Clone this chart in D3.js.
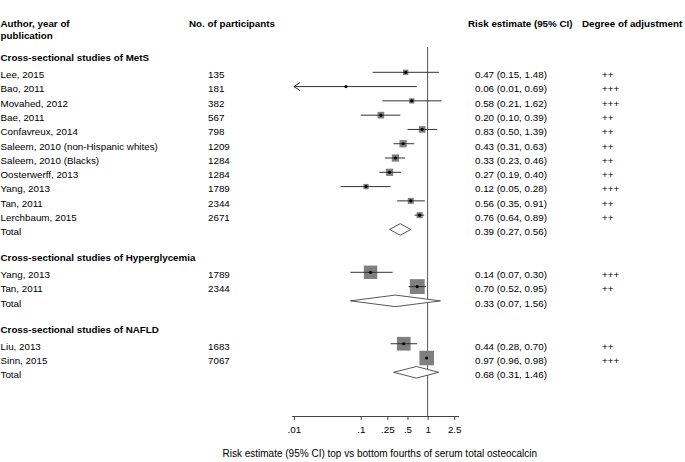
<!DOCTYPE html>
<html>
<head>
<meta charset="utf-8">
<script src="https://cdn.jsdelivr.net/npm/d3@7"></script>
<style>
  html, body { margin: 0; padding: 0; background: #fff; }
  svg { display: block; }
  text { font-family: "Liberation Sans", Arial, Helvetica, sans-serif; fill: #000; }
</style>
</head>
<body>
<svg id="chart" width="685" height="462"></svg>
<script>
// ---------------- DATA ----------------
const groupTitles = [
  "Cross-sectional studies of MetS",
  "Cross-sectional studies of Hyperglycemia",
  "Cross-sectional studies of NAFLD"
];
const studyGroup = [0,0,0,0,0,0,0,0,0,0,0, 1,1, 2,2];
const studyNames = [
  "Lee, 2015", "Bao, 2011", "Movahed, 2012", "Bae, 2011", "Confavreux, 2014",
  "Saleem, 2010 (non-Hispanic whites)", "Saleem, 2010 (Blacks)", "Oosterwerff, 2013",
  "Yang, 2013", "Tan, 2011", "Lerchbaum, 2015",
  "Yang, 2013", "Tan, 2011",
  "Liu, 2013", "Sinn, 2015"
];
const participants = [135, 181, 382, 567, 798, 1209, 1284, 1284, 1789, 2344, 2671, 1789, 2344, 1683, 7067];
const estimates = [0.47, 0.06, 0.58, 0.20, 0.83, 0.43, 0.33, 0.27, 0.12, 0.56, 0.76, 0.14, 0.70, 0.44, 0.97];
const lowerCI   = [0.15, 0.01, 0.21, 0.10, 0.50, 0.31, 0.23, 0.19, 0.05, 0.35, 0.64, 0.07, 0.52, 0.28, 0.96];
const upperCI   = [1.48, 0.69, 1.62, 0.39, 1.39, 0.63, 0.46, 0.40, 0.28, 0.91, 0.89, 0.30, 0.95, 0.70, 0.98];
const adjustment = ["++", "+++", "+++", "++", "++", "++", "++", "++", "+++", "++", "++", "+++", "++", "++", "+++"];
// estimated percent weights within each subgroup (box area)
const weights = [7, 0, 7, 11, 11, 13, 13, 13, 7, 9, 9, 45, 55, 47, 53];
const totalEst = [0.39, 0.33, 0.68];
const totalLo  = [0.27, 0.07, 0.31];
const totalHi  = [0.56, 1.56, 1.46];
const tickValues = [0.01, 0.1, 0.25, 0.5, 1, 2.5];
const tickLabels = [".01", ".1", ".25", ".5", "1", "2.5"];
const headers = ["Author, year of", "publication", "No. of participants", "Risk estimate (95% CI)", "Degree of adjustment"];
const xTitle = "Risk estimate (95% CI) top vs bottom fourths of serum total osteocalcin";

// ---------------- LAYOUT ----------------
const svg = d3.select("#chart");
const FS = 9.8;
const colName = 0.5, colN = 208, colEst = 475, colAdj = 602;
const textDy = 5.8; // baseline offset below marker centre

// Build rows
const rows = [];
let r = 0;
groupTitles.forEach((g, gi) => {
  rows.push({type: "header", label: g, row: r++});
  studyGroup.forEach((sg, i) => {
    if (sg === gi) rows.push({type: "study", i, row: r++});
  });
  rows.push({type: "total", gi, row: r++});
  r++; // blank row
});

const y = d3.scaleLinear().domain([1, 22]).range([72.3, 372.3]);
const x = d3.scaleLog().domain([0.0092, 2.9]).range([291.5, 458.5]);
const axisY = 416;
const fmt = d3.format(".2f");
const side = d3.scaleSqrt().domain([0, 100]).range([0, 20]);

// Column headers
const hy1 = 27, hy2 = 39;
svg.append("text").attr("x", colName).attr("y", hy1).attr("font-size", FS).attr("font-weight", "bold").text(headers[0]);
svg.append("text").attr("x", colName).attr("y", hy2).attr("font-size", FS).attr("font-weight", "bold").text(headers[1]);
svg.append("text").attr("x", 189).attr("y", hy1).attr("font-size", FS).attr("font-weight", "bold").text(headers[2]);
svg.append("text").attr("x", 468).attr("y", hy1).attr("font-size", FS).attr("font-weight", "bold").text(headers[3]);
svg.append("text").attr("x", 582).attr("y", hy1).attr("font-size", FS).attr("font-weight", "bold").text(headers[4]);

// Null line at 1
svg.append("line")
  .attr("x1", x(1)).attr("x2", x(1))
  .attr("y1", 47).attr("y2", axisY)
  .attr("stroke", "#555").attr("stroke-width", 1);

// Rows
rows.forEach(d => {
  const yy = y(d.row);
  if (d.type === "header") {
    svg.append("text").attr("x", colName).attr("y", yy + textDy - 2.5)
      .attr("font-size", FS).attr("font-weight", "bold").text(d.label);
  } else if (d.type === "study") {
    const i = d.i;
    svg.append("text").attr("x", colName).attr("y", yy + textDy).attr("font-size", FS).text(studyNames[i]);
    svg.append("text").attr("x", colN).attr("y", yy + textDy).attr("font-size", FS).text(participants[i]);
    svg.append("text").attr("x", colEst).attr("y", yy + textDy).attr("font-size", FS)
      .text(`${fmt(estimates[i])} (${fmt(lowerCI[i])}, ${fmt(upperCI[i])})`);
    svg.append("text").attr("x", colAdj).attr("y", yy + textDy).attr("font-size", FS).text(adjustment[i]);
    // box
    const s = side(weights[i]);
    if (s > 0) {
      svg.append("rect")
        .attr("x", x(estimates[i]) - s / 2).attr("y", yy - s / 2)
        .attr("width", s).attr("height", s)
        .attr("fill", "#7f7f7f");
    }
    // CI line
    svg.append("line")
      .attr("x1", x(lowerCI[i])).attr("x2", x(upperCI[i]))
      .attr("y1", yy).attr("y2", yy)
      .attr("stroke", "#333").attr("stroke-width", 1);
    if (lowerCI[i] <= 0.01) {
      const tx = x(lowerCI[i]);
      svg.append("path")
        .attr("d", `M${tx + 6},${yy - 4}L${tx},${yy}L${tx + 6},${yy + 4}`)
        .attr("fill", "none").attr("stroke", "#333").attr("stroke-width", 1);
    }
    svg.append("circle").attr("cx", x(estimates[i])).attr("cy", yy).attr("r", 1.6).attr("fill", "#000");
  } else if (d.type === "total") {
    const gi = d.gi;
    svg.append("text").attr("x", colName).attr("y", yy + textDy).attr("font-size", FS).text("Total");
    svg.append("text").attr("x", colEst).attr("y", yy + textDy).attr("font-size", FS)
      .text(`${fmt(totalEst[gi])} (${fmt(totalLo[gi])}, ${fmt(totalHi[gi])})`);
    const h = 5.8;
    svg.append("path")
      .attr("d", `M${x(totalLo[gi])},${yy}L${x(totalEst[gi])},${yy - h}L${x(totalHi[gi])},${yy}L${x(totalEst[gi])},${yy + h}Z`)
      .attr("fill", "#fff").attr("stroke", "#444").attr("stroke-width", 0.9);
  }
});

// Axis
const axis = d3.axisBottom(x)
  .tickValues(tickValues)
  .tickFormat((v, i) => tickLabels[i])
  .tickSize(4)
  .tickSizeOuter(0);
const gAxis = svg.append("g").attr("transform", `translate(0,${axisY})`).call(axis);
gAxis.select(".domain").attr("stroke", "#444");
gAxis.selectAll(".tick line").attr("stroke", "#444");
gAxis.selectAll(".tick text")
  .attr("font-family", "Liberation Sans, Arial, sans-serif")
  .attr("font-size", FS).attr("fill", "#000").attr("dy", 0).attr("y", 17);

svg.append("text").attr("x", 222.5).attr("y", 456.5).attr("font-size", 10).text(xTitle);
</script>
</body>
</html>
